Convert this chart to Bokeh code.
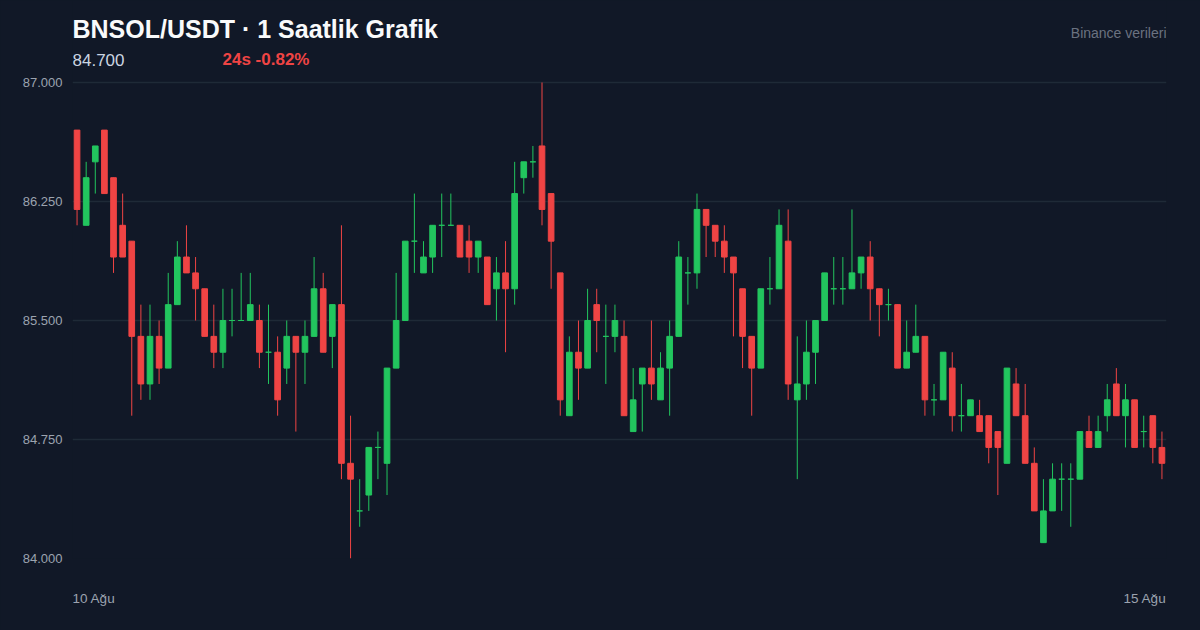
from bokeh.plotting import figure
from bokeh.models import ColumnDataSource, FixedTicker, NumeralTickFormatter, Label
from bokeh.embed import file_html
from bokeh.resources import INLINE

title_text = "BNSOL/USDT · 1 Saatlik Grafik"
price_text = "84.700"
change_text = "24s -0.82%"
source_text = "Binance verileri"
x_tick_labels = ["10 Ağu", "15 Ağu"]
y_ticks = [84.0, 84.75, 85.5, 86.25, 87.0]

opens = [86.7, 86.1, 86.5, 86.7, 86.4, 86.1, 86.0, 85.4, 85.1, 85.4,
         85.2, 85.6, 85.9, 85.8, 85.7, 85.4, 85.3, 85.5, 85.5, 85.5,
         85.5, 85.3, 85.3, 85.2, 85.4, 85.3, 85.4, 85.7, 85.4, 85.6,
         84.6, 84.3, 84.4, 84.7, 84.6, 85.2, 85.5, 86.0, 85.8, 85.9,
         86.1, 86.1, 86.1, 86.0, 85.9, 85.9, 85.7, 85.8, 85.7, 86.4,
         86.5, 86.6, 86.3, 85.8, 84.9, 85.3, 85.2, 85.6, 85.4, 85.4,
         85.4, 84.8, 85.1, 85.2, 85.0, 85.2, 85.4, 85.8, 85.8, 86.2,
         86.1, 86.0, 85.9, 85.7, 85.4, 85.2, 85.7, 85.7, 86.0, 85.0,
         85.1, 85.3, 85.5, 85.7, 85.7, 85.7, 85.8, 85.9, 85.7, 85.6,
         85.6, 85.2, 85.3, 85.4, 85.0, 85.0, 85.2, 84.9, 84.9, 84.9,
         84.9, 84.8, 84.6, 85.1, 84.9, 84.6, 84.1, 84.3, 84.5, 84.5,
         84.5, 84.8, 84.7, 84.9, 85.1, 84.9, 85.0, 84.8, 84.9, 84.7]
highs = [86.7, 86.5, 86.6, 86.7, 86.4, 86.3, 86.0, 85.6, 85.6, 85.5,
         85.8, 86.0, 86.1, 85.9, 85.7, 85.6, 85.7, 85.7, 85.8, 85.8,
         85.6, 85.6, 85.4, 85.5, 85.4, 85.5, 85.9, 85.8, 85.6, 86.1,
         84.9, 84.5, 84.7, 84.8, 85.2, 85.8, 86.0, 86.3, 86.0, 86.1,
         86.3, 86.3, 86.1, 86.1, 86.0, 85.9, 85.9, 86.0, 86.5, 86.5,
         86.6, 87.0, 86.3, 85.8, 85.4, 85.5, 85.7, 85.7, 85.6, 85.6,
         85.5, 85.2, 85.2, 85.5, 85.3, 85.5, 86.0, 85.9, 86.3, 86.2,
         86.1, 86.1, 85.9, 85.7, 85.4, 85.7, 85.9, 86.2, 86.2, 85.4,
         85.5, 85.5, 85.8, 85.9, 85.9, 86.2, 85.9, 86.0, 85.7, 85.7,
         85.6, 85.5, 85.6, 85.4, 85.1, 85.3, 85.3, 85.1, 85.0, 85.0,
         84.9, 84.8, 85.2, 85.2, 85.1, 84.7, 84.5, 84.6, 84.6, 84.6,
         84.8, 84.9, 84.9, 85.1, 85.2, 85.1, 85.0, 84.9, 84.9, 84.8]
lows = [86.1, 86.1, 86.3, 86.3, 85.8, 85.9, 84.9, 85.0, 85.0, 85.1,
        85.2, 85.6, 85.8, 85.5, 85.4, 85.2, 85.2, 85.4, 85.5, 85.5,
        85.2, 85.1, 84.9, 85.1, 84.8, 85.1, 85.4, 85.3, 85.2, 84.5,
        84.0, 84.2, 84.3, 84.5, 84.4, 85.2, 85.5, 85.8, 85.8, 85.8,
        85.9, 86.1, 85.9, 85.8, 85.8, 85.6, 85.5, 85.3, 85.6, 86.3,
        86.4, 86.1, 85.7, 84.9, 84.9, 85.0, 85.2, 85.3, 85.1, 85.3,
        84.9, 84.8, 84.8, 85.0, 85.0, 84.9, 85.4, 85.6, 85.7, 85.9,
        85.9, 85.8, 85.4, 85.2, 84.9, 85.2, 85.6, 85.7, 85.0, 84.5,
        85.0, 85.1, 85.5, 85.6, 85.6, 85.7, 85.7, 85.5, 85.4, 85.5,
        85.2, 85.2, 85.3, 84.9, 84.9, 85.0, 84.8, 84.8, 84.9, 84.8,
        84.6, 84.4, 84.6, 84.9, 84.6, 84.3, 84.1, 84.3, 84.3, 84.2,
        84.5, 84.7, 84.7, 84.8, 84.9, 84.7, 84.7, 84.7, 84.6, 84.5]
closes = [86.2, 86.4, 86.6, 86.3, 85.9, 85.9, 85.4, 85.1, 85.4, 85.2,
          85.6, 85.9, 85.8, 85.7, 85.4, 85.3, 85.5, 85.5, 85.5, 85.6,
          85.3, 85.3, 85.0, 85.4, 85.3, 85.4, 85.7, 85.3, 85.6, 84.6,
          84.5, 84.3, 84.7, 84.7, 85.2, 85.5, 86.0, 86.0, 85.9, 86.1,
          86.1, 86.1, 85.9, 85.9, 86.0, 85.6, 85.8, 85.7, 86.3, 86.5,
          86.5, 86.2, 86.0, 85.0, 85.3, 85.2, 85.5, 85.5, 85.4, 85.5,
          84.9, 85.0, 85.2, 85.1, 85.2, 85.4, 85.9, 85.8, 86.2, 86.1,
          86.0, 85.9, 85.8, 85.4, 85.2, 85.7, 85.7, 86.1, 85.1, 85.1,
          85.3, 85.5, 85.8, 85.7, 85.7, 85.8, 85.9, 85.7, 85.6, 85.6,
          85.2, 85.3, 85.4, 85.0, 85.0, 85.3, 84.9, 84.9, 85.0, 84.8,
          84.7, 84.7, 85.2, 84.9, 84.6, 84.3, 84.3, 84.5, 84.5, 84.5,
          84.8, 84.7, 84.8, 85.0, 84.9, 85.0, 84.7, 84.8, 84.7, 84.6]

BG = "#111827"
GREEN = "#22c55e"
RED = "#ef4444"
FONT = "Liberation Sans"

W, H = 1200, 630
LEFT, RIGHT, BOTTOM = 72, 34, 72
GRID_H = 476           # pixel height of the 84-87 price band
frame_w = W - LEFT - RIGHT
frame_h = H - BOTTOM
y_lo, y_hi = y_ticks[0], y_ticks[-1]
y_top = y_lo + (y_hi - y_lo) * frame_h / GRID_H

n = len(opens)
idx = list(range(n))
colors = [GREEN if c >= o else RED for o, c in zip(opens, closes)]
src = ColumnDataSource(dict(
    x=idx, o=opens, h=highs, l=lows, c=closes,
    top=[max(o, c) for o, c in zip(opens, closes)],
    bottom=[min(o, c) for o, c in zip(opens, closes)],
    color=colors,
))

p = figure(frame_width=frame_w, frame_height=frame_h,
           x_range=(-0.5, n - 0.5), y_range=(y_lo, y_top),
           output_backend="svg", toolbar_location=None,
           min_border_left=LEFT, min_border_right=RIGHT,
           min_border_top=0, min_border_bottom=BOTTOM,
           background_fill_color=BG, border_fill_color=BG,
           outline_line_color=None)

p.segment(x0="x", x1="x", y0="l", y1="h", color="color", line_width=1, source=src)
p.vbar(x="x", width=0.62, top="top", bottom="bottom", fill_color="color",
       line_color="color", line_width=1, source=src)

p.xgrid.visible = False
p.ygrid.ticker = FixedTicker(ticks=y_ticks)
p.ygrid.grid_line_color = "#1f2a37"
p.ygrid.grid_line_width = 1.5

ya = p.yaxis[0]
ya.ticker = FixedTicker(ticks=y_ticks)
ya.formatter = NumeralTickFormatter(format="0.000")
ya.axis_line_color = None
ya.major_tick_line_color = None
ya.minor_tick_line_color = None
ya.major_tick_out = 0
ya.major_tick_in = 0
ya.major_label_text_color = "#9ca3af"
ya.major_label_text_font = FONT
ya.major_label_text_font_size = "13px"
ya.major_label_standoff = 10

# two date labels, aligned to the frame edges
label_px = 21.5 / (frame_w / n)
x_pos = [-0.5 + label_px, n - 0.5 - label_px]
xa = p.xaxis[0]
xa.ticker = FixedTicker(ticks=x_pos)
xa.major_label_overrides = {x_pos[0]: x_tick_labels[0], x_pos[1]: x_tick_labels[1]}
xa.axis_line_color = None
xa.major_tick_line_color = None
xa.minor_tick_line_color = None
xa.major_tick_out = 0
xa.major_tick_in = 0
xa.major_label_text_color = "#9ca3af"
xa.major_label_text_font = FONT
xa.major_label_text_font_size = "13.5px"
xa.major_label_standoff = 32

# header texts (screen units: from the frame's bottom-left corner, y upward)
def header(x, y_from_top, txt, size_px, color, bold=False, align="left"):
    p.add_layout(Label(x=x, y=frame_h - y_from_top + 0.4 * size_px,
                       x_units="screen", y_units="screen",
                       text=txt, text_font=FONT, text_font_size=f"{size_px}px",
                       text_font_style="bold" if bold else "normal",
                       text_color=color, text_align=align,
                       text_baseline="alphabetic"))

header(0, 38, title_text, 25, "#f9fafb", bold=True)
header(0, 66, price_text, 17, "#cbd5e1")
header(150, 66, change_text, 17, RED, bold=True)
header(frame_w, 38, source_text, 14, "#6b7280", align="right")

html = file_html(p, INLINE)
# dark page background so no light seams show between the canvas layers
html = html.replace("<head>", "<head><style>html,body{background:#111827;}</style>", 1)
open("out.html", "w").write(html)
